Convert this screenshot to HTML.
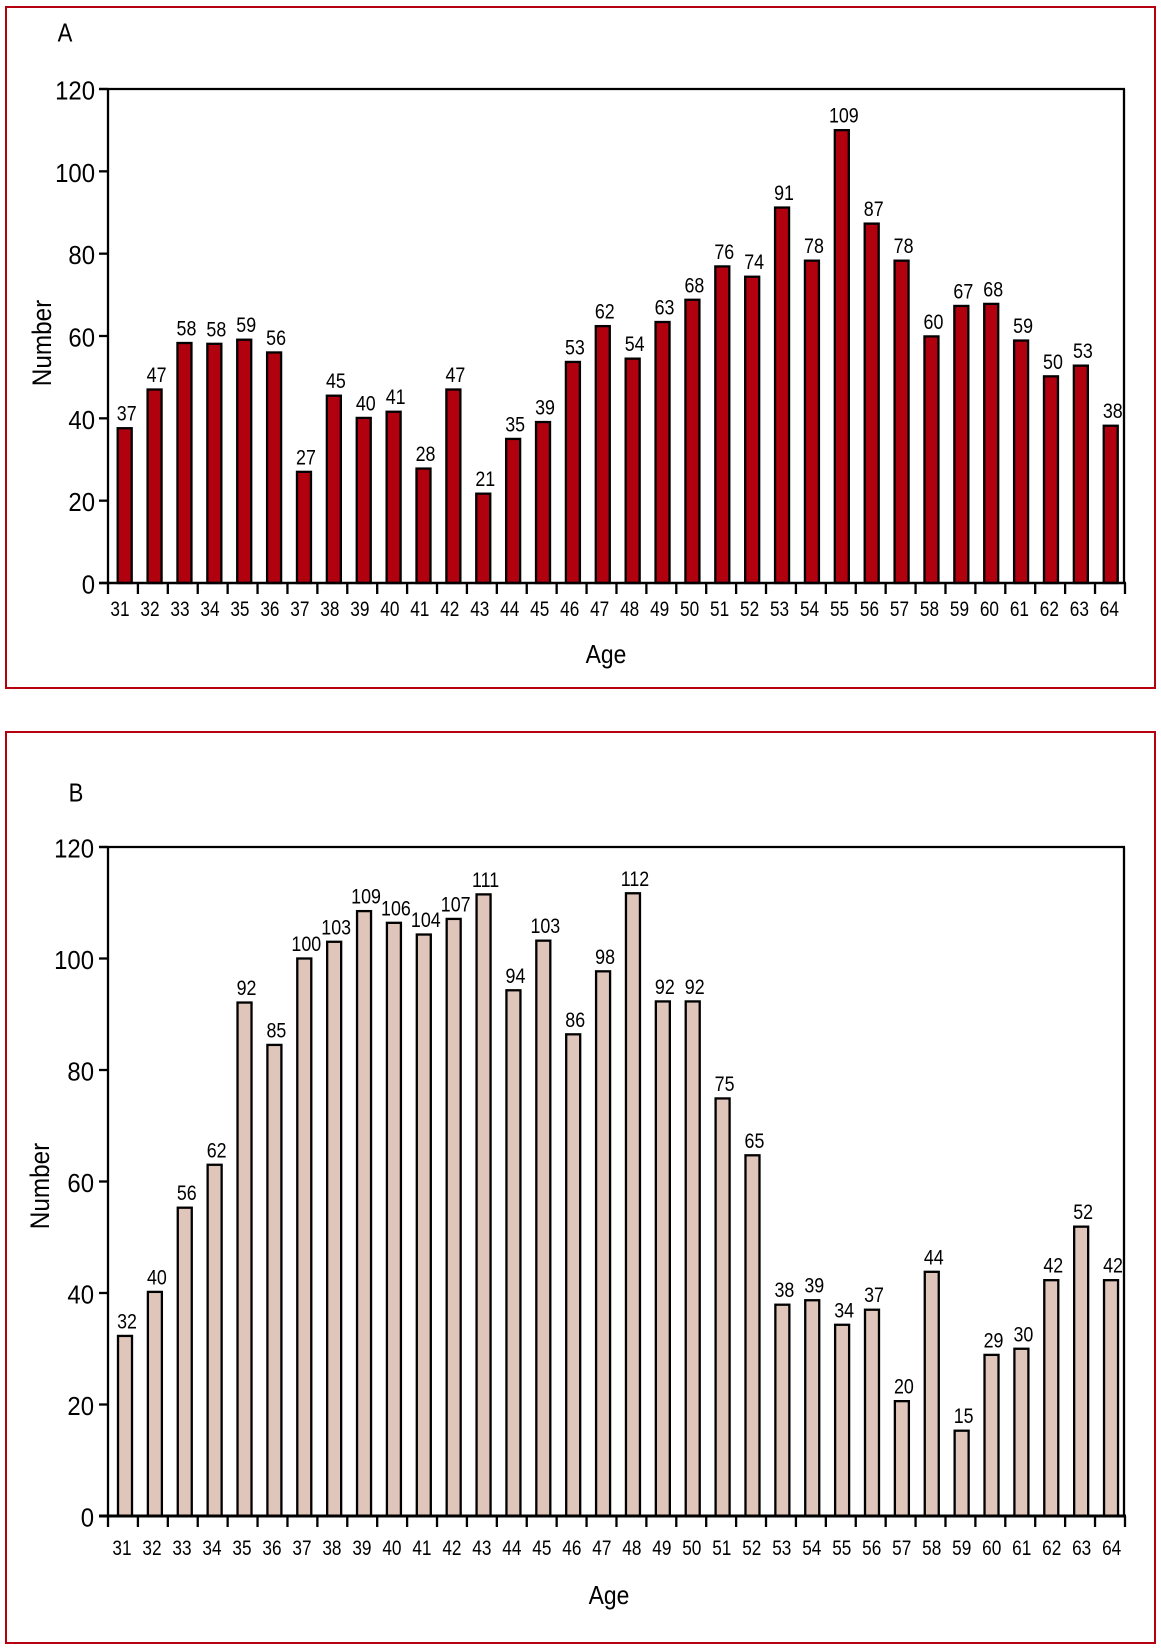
<!DOCTYPE html>
<html>
<head>
<meta charset="utf-8">
<title>Number by age, panels A and B</title>
<style>
html,body{margin:0;padding:0;background:#fff;}
svg{display:block;}
text{font-family:"Liberation Sans",Arial,sans-serif;fill:#000;}
</style>
</head>
<body>
<svg id="chart" width="1161" height="1650" viewBox="0 0 1161 1650" xmlns="http://www.w3.org/2000/svg">
  <rect x="6" y="7" width="1149" height="681" fill="#fff" stroke="#b5000f" stroke-width="2"/>
  <rect x="6" y="732" width="1149" height="911" fill="#fff" stroke="#b5000f" stroke-width="2"/>
</svg>
<script>
const categories = [31,32,33,34,35,36,37,38,39,40,41,42,43,44,45,46,47,48,49,50,51,52,53,54,55,56,57,58,59,60,61,62,63,64];
const printedA = [37,47,58,58,59,56,27,45,40,41,28,47,21,35,39,53,62,54,63,68,76,74,91,78,109,87,78,60,67,68,59,50,53,38];
const printedB = [32,40,56,62,92,85,100,103,109,106,104,107,111,94,103,86,98,112,92,92,75,65,38,39,34,37,20,44,15,29,30,42,52,42];
const valuesA = [37.6,47,58.3,58.1,59.1,56,27,45.5,40.1,41.6,27.8,47,21.7,35,39.1,53.7,62.4,54.5,63.4,68.8,76.9,74.4,91.2,78.3,110,87.3,78.3,59.9,67.3,67.8,58.9,50.2,52.8,38.2];
const valuesB = [32.3,40.2,55.3,63,92.1,84.5,100,103,108.5,106.4,104.3,107.1,111.5,94.3,103.2,86.4,97.7,111.7,92.3,92.3,74.9,64.7,37.9,38.7,34.3,37,20.6,43.8,15.3,28.9,30,42.3,51.9,42.3];
const yTickLabels = [0,20,40,60,80,100,120];
const yMax = 120;

const NS = 'http://www.w3.org/2000/svg';
const svg = document.getElementById('chart');
const LINE_W = 2.3;

function makeLine(parent, x1, y1, x2, y2, w) {
  const el = document.createElementNS(NS, 'line');
  el.setAttribute('x1', x1);
  el.setAttribute('y1', y1);
  el.setAttribute('x2', x2);
  el.setAttribute('y2', y2);
  el.setAttribute('stroke', '#000');
  el.setAttribute('stroke-width', w);
  parent.appendChild(el);
  return el;
}

function makeText(parent, x, y, str, size, sx, anchor, rotate) {
  const el = document.createElementNS(NS, 'text');
  const rot = rotate ? ' rotate(' + rotate + ')' : '';
  el.setAttribute('transform', 'translate(' + x + ',' + y + ')' + rot + ' scale(' + sx + ',1)');
  el.setAttribute('font-size', size);
  el.setAttribute('text-anchor', anchor);
  el.textContent = str;
  parent.appendChild(el);
  return el;
}

function drawPanel(cfg) {
  const g = document.createElementNS(NS, 'g');
  
  
  svg.appendChild(g);

  const left = 108, right = 1124;
  const yScale = v => cfg.base - (cfg.base - cfg.top) * v / yMax;
  const xBand = i => cfg.firstBar + 29.88 * i;
  const xTick = i => left + 29.91 * i;
  const xLabel = i => cfg.firstLabel + cfg.labelPitch * i;

  const topLine = makeLine(g, 99, cfg.top, right + 1, cfg.top, LINE_W);
  
  
  const rightLine = makeLine(g, right, cfg.top, right, cfg.base, LINE_W);
  
  
  const yAxis = makeLine(g, left, cfg.top, left, cfg.base, LINE_W);
  
  

  yTickLabels.forEach(v => {
    const tick = makeLine(g, 99, yScale(v), left, yScale(v), LINE_W);
    
    
    const label = makeText(g, cfg.yLabelX, yScale(v) + 10.5, String(v), 26, 0.92, 'end');
    
    
  });

  categories.forEach((c, i) => {
    const v = cfg.values[i];
    const bar = document.createElementNS(NS, 'rect');
    bar.setAttribute('x', xBand(i) + 1);
    bar.setAttribute('y', yScale(v));
    bar.setAttribute('width', 14);
    bar.setAttribute('height', Math.max(0, cfg.base - yScale(v)));
    bar.setAttribute('fill', cfg.fill);
    bar.setAttribute('stroke', '#000');
    bar.setAttribute('stroke-width', LINE_W);
    
    
    g.appendChild(bar);

    const value = makeText(g, xBand(i) + 10, yScale(v) - 7.5, String(cfg.printed[i]), 21, 0.85, 'middle');
    
    

    const tick = makeLine(g, xTick(i), cfg.base, xTick(i), cfg.base + 11, LINE_W);
    
    

    const label = makeText(g, xLabel(i), cfg.xLabelY, String(c), 21, 0.82, 'middle');
    
    
  });

  const endTick = makeLine(g, right + 1, cfg.base, right + 1, cfg.base + 11, LINE_W);
  
  

  const xAxis = makeLine(g, 99, cfg.base, right + 2, cfg.base, cfg.baseWidth);
  
  

  const xTitle = makeText(g, cfg.ageX, cfg.ageY, 'Age', 26, 0.88, 'middle');
  
  

  const yTitle = makeText(g, cfg.numX, cfg.numY, 'Number', 27, 0.9, 'middle', -90);
  
  

  const panelLabel = makeText(g, cfg.letterX, cfg.letterY, cfg.letter, 26, 0.85, 'middle');
  
  
}

drawPanel({
  name: 'panel-a', letter: 'A', values: valuesA, printed: printedA, fill: '#b1000e',
  top: 89, base: 583, baseWidth: 2.5, firstBar: 116.7, firstLabel: 120, labelPitch: 29.98,
  yLabelX: 95, xLabelY: 616, ageX: 606, ageY: 663, numX: 51, numY: 343,
  letterX: 65, letterY: 41.5
});

drawPanel({
  name: 'panel-b', letter: 'B', values: valuesB, printed: printedB, fill: '#e0c6ba',
  top: 847, base: 1516, baseWidth: 3, firstBar: 117, firstLabel: 122, labelPitch: 29.99,
  yLabelX: 94, xLabelY: 1555, ageX: 609, ageY: 1604, numX: 49, numY: 1186,
  letterX: 76, letterY: 801.5
});
</script>
</body>
</html>
